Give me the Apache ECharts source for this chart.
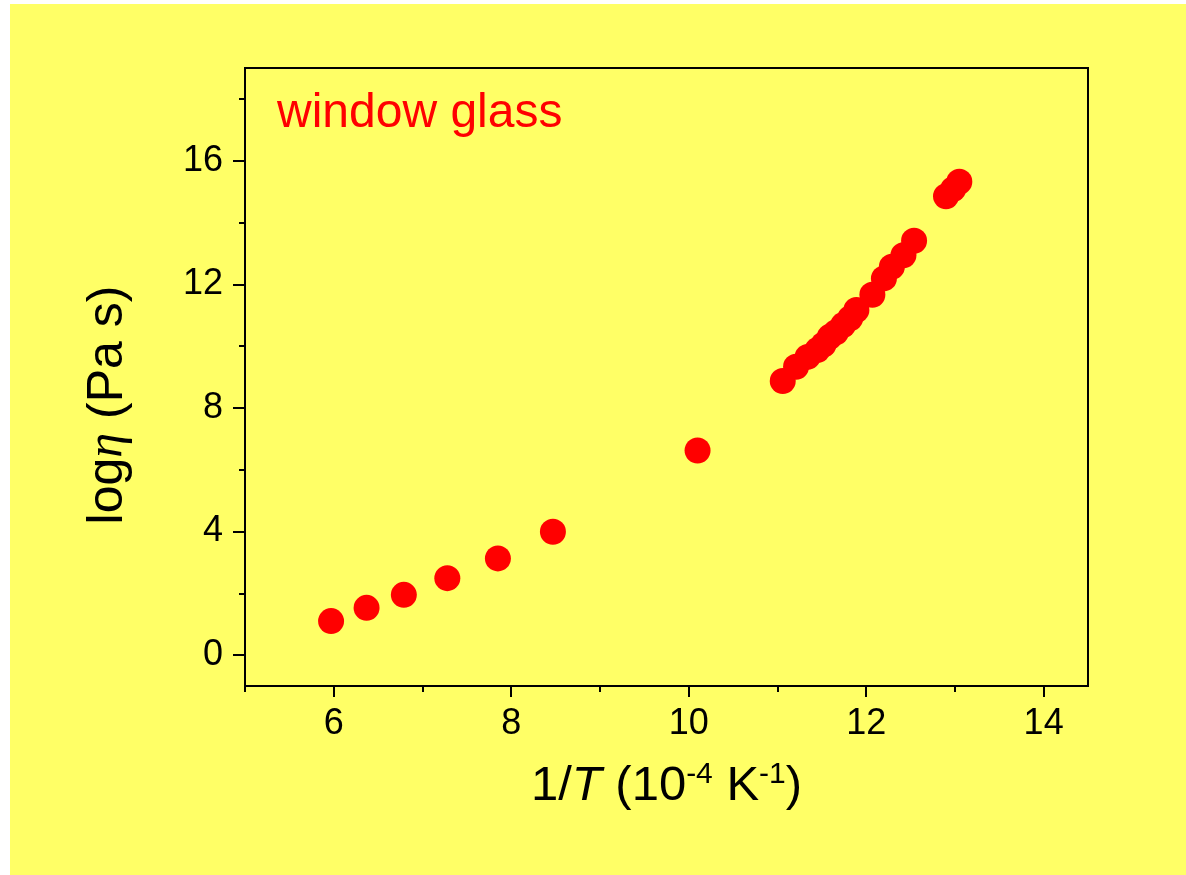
<!DOCTYPE html>
<html>
<head>
<meta charset="utf-8">
<script src="https://cdn.jsdelivr.net/npm/echarts@6/dist/echarts.min.js"></script>
<style>html,body{margin:0;padding:0;background:#fff}#c{width:1186px;height:875px}</style>
</head>
<body>
<div id="c"></div>
<script>
// 1/T (10^-4 K^-1)
var invT = [5.97, 6.37, 6.79, 7.28, 7.85, 8.47, 10.10,
            11.06, 11.21, 11.34, 11.45, 11.52, 11.59, 11.66, 11.74, 11.82, 11.89,
            12.07, 12.20, 12.29, 12.42, 12.54, 12.90, 12.98, 13.05];
// log eta (Pa s)
var logEta = [1.10, 1.53, 1.95, 2.49, 3.13, 3.99, 6.62,
              8.87, 9.33, 9.65, 9.87, 10.05, 10.30, 10.45, 10.68, 10.90, 11.17,
              11.66, 12.19, 12.57, 12.94, 13.41, 14.85, 15.08, 15.32];
var xTicks = [6, 8, 10, 12, 14];
var xMinorTicks = [5, 7, 9, 11, 13];
var yTicks = [0, 4, 8, 12, 16];
var yMinorTicks = [2, 6, 10, 14, 18];

var pts = invT.map(function (x, i) { return [x, logEta[i]]; });
var font = 'Liberation Sans, Arial, sans-serif';
var gridBox = {left: 245, right: 98, top: 68, bottom: 189};
var chart = echarts.init(document.getElementById('c'), null, {renderer: 'canvas'});
chart.setOption({
  backgroundColor: '#ffffff',
  animation: false,
  graphic: [
    {type: 'rect', left: 10, top: 4, shape: {width: 1176, height: 871}, style: {fill: '#FFFF66'}, z: -10, silent: true},
    {type: 'text', left: 277, top: 90, style: {text: 'window glass', fill: '#FF0000', font: '48px ' + font}, z: 10}
  ],
  grid: [
    Object.assign({show: true, borderColor: '#000', borderWidth: 2, backgroundColor: 'transparent'}, gridBox),
    Object.assign({show: false}, gridBox)
  ],
  xAxis: [{
    type: 'value', min: 5, max: 14.5, gridIndex: 0,
    axisLine: {show: true, onZero: false, lineStyle: {color: '#000', width: 2}},
    axisTick: {show: true, inside: false, length: 11, customValues: xTicks, lineStyle: {color: '#000', width: 2}},
    splitLine: {show: false},
    axisLabel: {margin: 20, color: '#000', fontSize: 36, fontFamily: font, customValues: xTicks},
    name: '{n|1/}{i|T}{n| (10}{s|-4}{n| K}{s|-1}{n|)}',
    nameLocation: 'middle', nameGap: 74,
    nameTextStyle: {rich: {
      n: {fontSize: 49, fontFamily: font, color: '#000'},
      i: {fontSize: 49, fontFamily: font, fontStyle: 'italic', color: '#000'},
      s: {fontSize: 30, fontFamily: font, color: '#000', verticalAlign: 'top', padding: [0, 0, 22, 0]}
    }}
  }, {
    type: 'value', min: 5, max: 14.5, gridIndex: 1,
    axisLine: {show: false, onZero: false},
    axisTick: {show: true, inside: false, length: 6, customValues: xMinorTicks, lineStyle: {color: '#000', width: 2}},
    axisLabel: {show: false},
    splitLine: {show: false}
  }],
  yAxis: [{
    type: 'value', min: -1, max: 19, gridIndex: 0,
    axisLine: {show: true, onZero: false, lineStyle: {color: '#000', width: 2}},
    axisTick: {show: true, inside: false, length: 12, customValues: yTicks, lineStyle: {color: '#000', width: 2}},
    splitLine: {show: false},
    axisLabel: {margin: 22, color: '#000', fontSize: 36, fontFamily: font, customValues: yTicks},
    name: '{n|log}{e|η}{n| (Pa s)}',
    nameLocation: 'middle', nameRotate: 90, nameGap: 112,
    nameTextStyle: {padding: [0, 56, 0, 0], rich: {
      n: {fontSize: 50, fontFamily: font, color: '#000'},
      e: {fontSize: 50, fontFamily: 'Liberation Serif, DejaVu Serif, serif', fontStyle: 'italic', color: '#000'}
    }}
  }, {
    type: 'value', min: -1, max: 19, gridIndex: 1,
    axisLine: {show: false, onZero: false},
    axisTick: {show: true, inside: false, length: 6, customValues: yMinorTicks, lineStyle: {color: '#000', width: 2}},
    axisLabel: {show: false},
    splitLine: {show: false}
  }],
  series: [{
    type: 'scatter', data: pts, symbol: 'circle', symbolSize: 26, xAxisIndex: 0, yAxisIndex: 0,
    itemStyle: {color: '#FF0000', opacity: 1}, z: 5
  }]
});
</script>
</body>
</html>
